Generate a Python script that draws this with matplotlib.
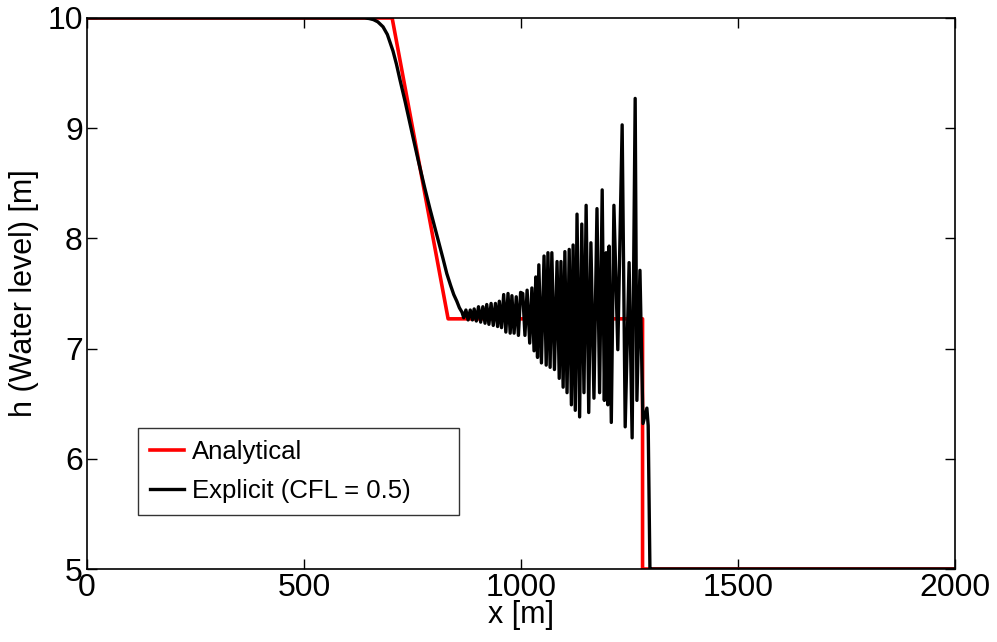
import matplotlib.pyplot as plt

# Analytical dam-break solution
x_analytical = [0, 703, 832, 1280, 1280, 2000]
h_analytical = [10, 10, 7.27, 7.27, 5, 5]

# Explicit scheme (CFL = 0.5): smooth part, then oscillation extrema
x_explicit = [0, 640, 650, 660, 670, 682, 692, 705, 713, 721, 733, 751, 763, 778, 790, 810, 820,
              829, 838, 845, 852, 858, 864,
              868, 873, 878, 883, 888, 892, 897, 902, 907, 912, 917, 921, 926, 931, 936, 941,
              946, 950, 955, 960, 965, 970, 975, 979, 984, 989, 994, 999,
              1004, 1009, 1014, 1020, 1025, 1030, 1034, 1038, 1041, 1047, 1053, 1058, 1062,
              1067, 1071, 1077, 1083, 1088, 1092, 1097, 1101, 1106, 1111, 1116, 1120, 1125,
              1129, 1135, 1140, 1145, 1150, 1156, 1161, 1168, 1175, 1181, 1187, 1192, 1196,
              1200, 1203, 1208, 1214, 1223, 1233, 1240, 1249, 1256, 1263, 1267, 1274, 1281,
              1290, 1293, 1297, 1300, 2000]
h_explicit = [10, 10, 9.995, 9.985, 9.965, 9.92, 9.85, 9.70, 9.58, 9.44, 9.24, 8.92, 8.71, 8.46, 8.27, 7.97, 7.82,
              7.68, 7.57, 7.49, 7.43, 7.37, 7.33,
              7.28, 7.35, 7.26, 7.35, 7.26, 7.36, 7.25, 7.38, 7.24, 7.38, 7.23, 7.40, 7.22, 7.41, 7.21, 7.41,
              7.20, 7.43, 7.19, 7.49, 7.15, 7.50, 7.14, 7.48, 7.14, 7.47, 7.12, 7.51,
              7.50, 7.12, 7.53, 7.05, 7.55, 6.98, 7.65, 6.92, 7.76, 6.87, 7.84, 6.85, 7.87,
              6.83, 7.87, 6.81, 7.79, 6.73, 7.79, 6.65, 7.88, 6.60, 7.90, 6.49, 7.94, 6.44,
              8.22, 6.38, 8.13, 6.60, 8.30, 6.42, 7.96, 6.55, 8.27, 6.60, 8.44, 6.53, 7.87,
              6.49, 7.93, 6.33, 8.30, 6.99, 9.03, 6.29, 7.78, 6.19, 9.27, 6.53, 7.71, 6.32,
              6.46, 6.30, 5.0, 5.0, 5.0]

plt.rcParams['font.family'] = ['Liberation Sans', 'DejaVu Sans']

fig = plt.figure(figsize=(9.97, 6.42), dpi=100)
ax = fig.add_axes([0.0873, 0.1137, 0.8706, 0.8583])

ax.plot(x_analytical, h_analytical, color='#ff0000', lw=2.6, label='Analytical')
ax.plot(x_explicit, h_explicit, color='black', lw=2.4, label='Explicit (CFL = 0.5)')

ax.set_xlim(0, 2000)
ax.set_ylim(5, 10)
ax.set_xticks([0, 500, 1000, 1500, 2000])
ax.set_yticks([5, 6, 7, 8, 9, 10])
ax.tick_params(direction='in', top=True, right=True, labelsize=23, length=7, width=1, pad=3)
for s in ax.spines.values():
    s.set_linewidth(1.2)

ax.set_xlabel('x [m]', fontsize=22, labelpad=-2)
ax.set_ylabel('h (Water level) [m]', fontsize=22, labelpad=6)

# legend box stretched to the width seen in the reference
leg = ax.legend(loc='lower left', bbox_to_anchor=(0.059, 0.098, 0.37, 0.16), mode='expand',
                borderaxespad=0, fontsize=18.5, frameon=True, fancybox=False, edgecolor='black',
                handlelength=1.35, handletextpad=0.3, borderpad=0.45, labelspacing=0.6)
leg.get_frame().set_linewidth(1.0)

fig.savefig('out.png', dpi=100)
